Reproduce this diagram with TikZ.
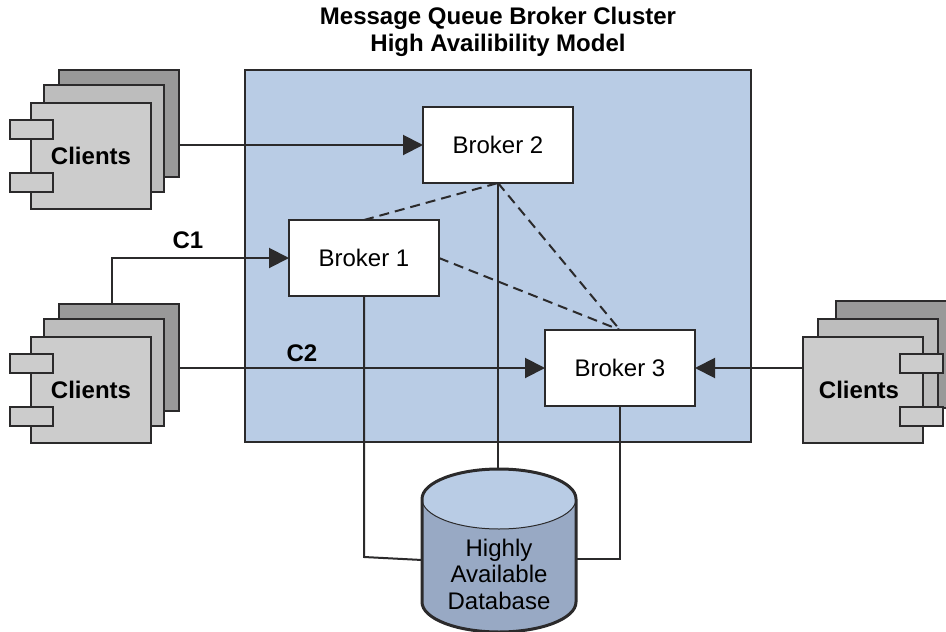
\documentclass[tikz,border=0pt]{standalone}
\usepackage{fontspec}
\setmainfont{Liberation Sans}
\usetikzlibrary{arrows.meta}
\definecolor{clusterblue}{HTML}{B9CCE5}
\definecolor{dbblue}{HTML}{98A9C4}
\definecolor{linegray}{HTML}{2B2A2B}
\definecolor{clientlight}{HTML}{CCCCCC}
\definecolor{clientmid}{HTML}{BDBDBD}
\definecolor{clientdark}{HTML}{999999}
\tikzset{
  box/.style={rectangle,draw=linegray,line width=2.2pt,inner sep=0pt,outer sep=0pt},
  clientback/.style={box,fill=clientdark,minimum width=120pt,minimum height=107pt},
  clientmiddle/.style={box,fill=clientmid,minimum width=120pt,minimum height=107pt},
  clientfront/.style={box,fill=clientlight,minimum width=120pt,minimum height=106pt,font=\fontsize{24}{28}\selectfont\bfseries},
  clienttab/.style={box,fill=clientlight,minimum width=43pt,minimum height=19pt},
  broker/.style={box,fill=white,minimum width=150pt,minimum height=76pt,font=\fontsize{24}{28}\selectfont},
  link/.style={draw=linegray,line width=2pt},
  arrow/.style={link,-{Triangle[length=20pt,width=20pt]}},
  peer/.style={link,dashed,dash pattern=on 10pt off 6pt},
  tag/.style={font=\fontsize{24}{28}\selectfont\bfseries}
}
\begin{document}
\begin{tikzpicture}[x=1pt,y=-1pt]
  \useasboundingbox (0,0) rectangle (946,632);
  \clip (0,0) rectangle (946,632);

  \node[align=center,font=\fontsize{24}{27}\selectfont\bfseries] (title) at (498,31.5) {Message Queue Broker Cluster\\High Availibility Model};

  \node[box,fill=clusterblue,minimum width=506pt,minimum height=372pt] (cluster) at (498,256) {};

  % clients, top left
  \node[clientback] (c1back) at (119,123.5) {};
  \node[clientmiddle] (c1mid) at (104,138.5) {};
  \node[clientfront] (c1) at (91,156) {Clients};
  \node[clienttab] (c1taba) at (31.5,129.5) {};
  \node[clienttab] (c1tabb) at (31.5,182.5) {};

  % clients, bottom left
  \node[clientback] (c2back) at (119,357.5) {};
  \node[clientmiddle] (c2mid) at (104,372.5) {};
  \node[clientfront] (c2) at (91,390) {Clients};
  \node[clienttab] (c2taba) at (31.5,363.5) {};
  \node[clienttab] (c2tabb) at (31.5,416.5) {};

  % clients, right
  \node[clientback] (c3back) at (896,354.5) {};
  \node[clientmiddle] (c3mid) at (878,372.5) {};
  \node[clientfront] (c3) at (863,390) {Clients\kern8pt};
  \node[clienttab] (c3taba) at (921.5,363.5) {};
  \node[clienttab] (c3tabb) at (921.5,416.5) {};

  \node[broker] (b2) at (498,145) {Broker 2};
  \node[broker] (b1) at (364,258) {Broker 1};
  \node[broker] (b3) at (620,368) {Broker 3};

  % database
  \fill[dbblue] (422,499) -- (422,602) arc[x radius=77,y radius=30,start angle=180,end angle=0] -- (576,499) -- cycle;
  \fill[clusterblue] (499,499) ellipse[x radius=77,y radius=30];
  \draw[linegray,line width=1pt] (422,499) arc[x radius=77,y radius=30,start angle=180,end angle=0];
  \draw[linegray,line width=3pt] (422,499) -- (422,602) arc[x radius=77,y radius=30,start angle=180,end angle=0] -- (576,499) arc[x radius=77,y radius=30,start angle=0,end angle=-180] -- cycle;
  \node[align=center,font=\fontsize{24}{26.5}\selectfont] (db) at (499,574) {Highly\\Available\\Database};
  \coordinate (dbtop) at (498,469);
  \coordinate (dbleft) at (422,560);
  \coordinate (dbright) at (576,559);
  \coordinate (b1drop) at (364,557);

  \node[tag] (c1label) at (188,240) {C1};
  \node[tag] (c2label) at (302,353) {C2};

  \path[arrow] (c1back.east |- b2.west) -- (b2.west);
  \path[arrow] (c2back.north -| 112,0) |- (b1.west);
  \path[arrow] (c2back.east |- b3.west) -- (b3.west);
  \path[arrow] (c3.west |- b3.east) -- (b3.east);

  \path[link] (b2.south) -- (dbtop);
  \path[link] (b1.south) -- (b1drop) -- (dbleft);
  \path[link] (b3.south) |- (dbright);

  \path[peer] (b1.north) -- (b2.south);
  \path[peer] (b2.south) -- (b3.north);
  \path[peer] (b1.east) -- (b3.north);
\end{tikzpicture}
\end{document}
